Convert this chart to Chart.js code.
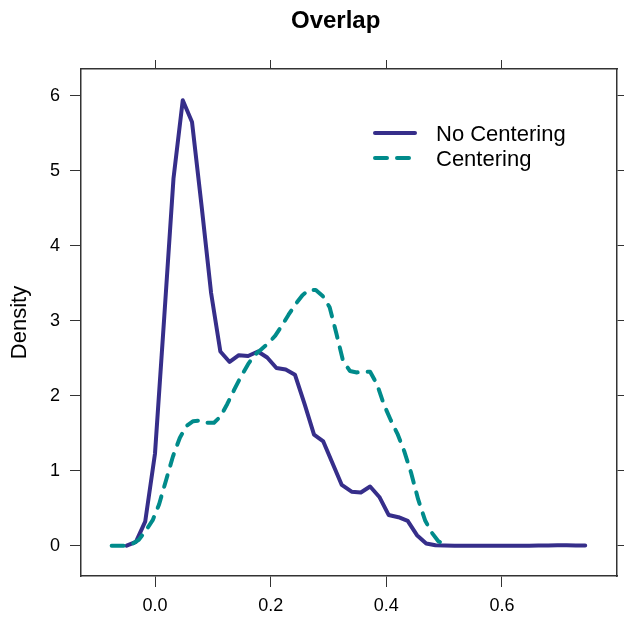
<!DOCTYPE html>
<html>
<head>
<meta charset="utf-8">
<title>Overlap</title>
<script src="https://cdn.jsdelivr.net/npm/chart.js@4.4.0/dist/chart.umd.min.js"></script>
<style>
  body { margin: 0; background: #fff; }
  canvas { display: block; }
</style>
</head>
<body>
<canvas id="overlapChart" width="624" height="617"></canvas>
<script>
// density curves
const noCenterX = [-0.049, -0.033, -0.017, 0.000, 0.016, 0.032, 0.048, 0.064, 0.081, 0.097,
  0.113, 0.129, 0.145, 0.161, 0.178, 0.194, 0.210, 0.226, 0.242, 0.259,
  0.275, 0.291, 0.307, 0.323, 0.340, 0.356, 0.372, 0.388, 0.404, 0.421,
  0.437, 0.453, 0.469, 0.485, 0.501, 0.518, 0.534, 0.550, 0.566, 0.582,
  0.599, 0.615, 0.631, 0.647, 0.663, 0.680, 0.696, 0.712, 0.728, 0.744];
const noCenterY = [0, 0.05, 0.32, 1.23, 3.05, 4.90, 5.94, 5.65, 4.50, 3.37,
  2.59, 2.45, 2.54, 2.53, 2.59, 2.51, 2.37, 2.35, 2.28, 1.88,
  1.48, 1.39, 1.10, 0.81, 0.72, 0.71, 0.79, 0.65, 0.41, 0.38,
  0.33, 0.14, 0.03, 0.005, 0.002, 0, 0, 0, 0, 0,
  0, 0, 0, 0, 0.002, 0.004, 0.005, 0.005, 0.003, 0.002];

const centerX = [-0.075, -0.063, -0.051, -0.040, -0.028, -0.016, -0.004, 0.007, 0.019, 0.031,
  0.043, 0.055, 0.066, 0.078, 0.090, 0.102, 0.113, 0.125, 0.137, 0.149,
  0.161, 0.172, 0.184, 0.196, 0.208, 0.219, 0.231, 0.243, 0.255, 0.266,
  0.278, 0.290, 0.302, 0.314, 0.325, 0.337, 0.349, 0.361, 0.372, 0.384,
  0.396, 0.408, 0.420, 0.431, 0.443, 0.455, 0.467, 0.478, 0.490, 0.502];
const centerY = [0, 0, 0, 0.02, 0.08, 0.20, 0.34, 0.55, 0.87, 1.19,
  1.44, 1.60, 1.66, 1.67, 1.64, 1.64, 1.72, 1.89, 2.08, 2.26,
  2.42, 2.54, 2.62, 2.70, 2.80, 2.93, 3.08, 3.22, 3.34, 3.41,
  3.41, 3.33, 3.18, 2.82, 2.47, 2.33, 2.31, 2.32, 2.32, 2.15,
  1.88, 1.67, 1.48, 1.26, 0.97, 0.62, 0.34, 0.18, 0.06, 0.01];

const seriesNames = ["No Centering", "Centering"];
const xTicks = [0, 0.2, 0.4, 0.6];
const yTicks = [0, 1, 2, 3, 4, 5, 6];
const xMin = -0.128, xMax = 0.799;
const yMin = -0.404, yMax = 6.356;

const FONT = "'Liberation Sans', Arial, Helvetica, sans-serif";
const AXIS_COLOR = "#333333";

function points(xs, ys) {
  return xs.map((x, i) => ({ x: x, y: ys[i] }));
}

// legend drawn inside the panel, top right
const insideLegend = {
  id: "insideLegend",
  afterDatasetsDraw(chart) {
    const ctx = chart.ctx;
    ctx.save();
    chart.data.datasets.forEach((ds, i) => {
      const y = 133 + i * 25;
      ctx.beginPath();
      ctx.strokeStyle = ds.borderColor;
      ctx.lineWidth = ds.borderWidth;
      ctx.lineCap = "round";
      ctx.setLineDash(ds.borderDash || []);
      ctx.moveTo(375, y);
      ctx.lineTo(415, y);
      ctx.stroke();
      ctx.setLineDash([]);
      ctx.fillStyle = "#000";
      ctx.font = "22px " + FONT;
      ctx.textBaseline = "middle";
      ctx.textAlign = "left";
      ctx.fillText(ds.label, 436, y + 1.5);
    });
    ctx.restore();
  }
};

function sideAxis(extra) {
  return Object.assign({
    type: "linear",
    grid: { drawOnChartArea: false, drawTicks: true, tickLength: 11, color: AXIS_COLOR, lineWidth: 1 },
    border: { display: true, color: AXIS_COLOR, width: 1.5 }
  }, extra);
}

const ctx = document.getElementById("overlapChart").getContext("2d");

new Chart(ctx, {
  type: "line",
  data: {
    datasets: [
      {
        label: seriesNames[0],
        data: points(noCenterX, noCenterY),
        borderColor: "#362e8a",
        borderWidth: 4,
        pointRadius: 0,
        tension: 0,
        borderJoinStyle: "round",
        borderCapStyle: "round",
        order: 1
      },
      {
        label: seriesNames[1],
        data: points(centerX, centerY),
        borderColor: "#008b8b",
        borderWidth: 4,
        borderDash: [12, 10],
        pointRadius: 0,
        tension: 0,
        borderJoinStyle: "round",
        borderCapStyle: "round",
        order: 0
      }
    ]
  },
  options: {
    responsive: false,
    animation: false,
    layout: { padding: 0 },
    plugins: {
      legend: { display: false },
      tooltip: { enabled: false }
    },
    scales: {
      x: sideAxis({
        position: "bottom",
        min: xMin,
        max: xMax,
        afterBuildTicks: (s) => { s.ticks = xTicks.map((v) => ({ value: v })); },
        afterFit: (s) => { s.height = 41; },
        ticks: {
          color: "#000",
          padding: 8,
          font: { size: 18, family: FONT },
          callback: (v) => Number(v).toFixed(1)
        }
      }),
      x2: sideAxis({
        axis: "x",
        position: "top",
        min: xMin,
        max: xMax,
        afterBuildTicks: (s) => { s.ticks = xTicks.map((v) => ({ value: v })); },
        afterFit: (s) => { s.height = 69; },
        grid: { drawOnChartArea: false, drawTicks: true, tickLength: 9, color: AXIS_COLOR, lineWidth: 1 },
        ticks: { display: false },
        title: {
          display: true,
          text: "Overlap    ",
          color: "#000",
          font: { size: 24, weight: "bold", family: FONT },
          padding: { top: 6.5, bottom: 0 }
        }
      }),
      y: sideAxis({
        position: "left",
        min: yMin,
        max: yMax,
        afterBuildTicks: (s) => { s.ticks = yTicks.map((v) => ({ value: v })); },
        afterFit: (s) => { s.width = 81; },
        ticks: {
          color: "#000",
          padding: 10,
          font: { size: 18, family: FONT },
          callback: (v) => String(v)
        },
        title: {
          display: true,
          text: "Density",
          color: "#000",
          font: { size: 22, family: FONT },
          padding: { top: 7, bottom: 0 }
        }
      }),
      y2: sideAxis({
        axis: "y",
        position: "right",
        min: yMin,
        max: yMax,
        afterBuildTicks: (s) => { s.ticks = yTicks.map((v) => ({ value: v })); },
        afterFit: (s) => { s.width = 7; },
        grid: { drawOnChartArea: false, drawTicks: true, tickLength: 8, color: AXIS_COLOR, lineWidth: 1 },
        ticks: { display: false }
      })
    }
  },
  plugins: [insideLegend]
});
</script>
</body>
</html>
